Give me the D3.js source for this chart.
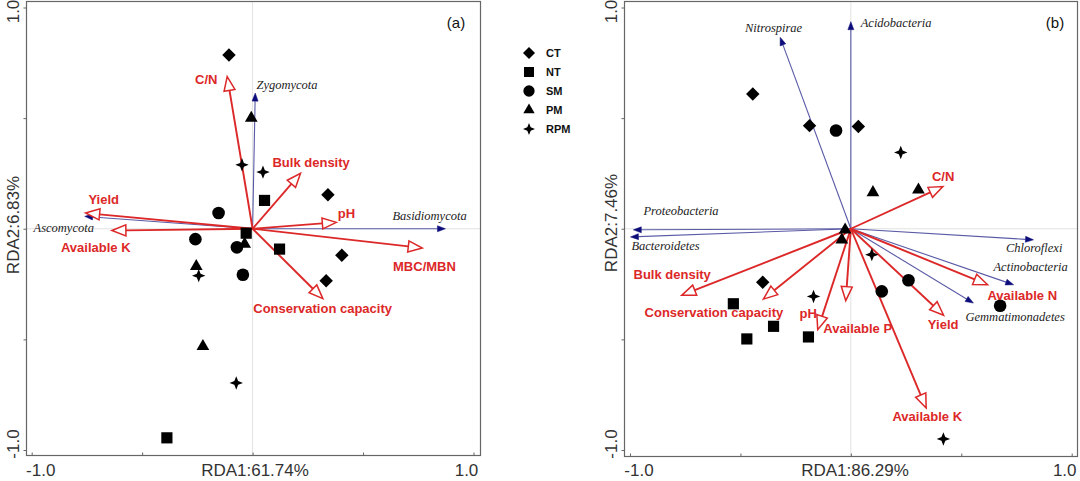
<!DOCTYPE html>
<html><head><meta charset="utf-8">
<script src="https://cdn.jsdelivr.net/npm/d3@7"></script>
<style>body{margin:0;background:#fff}svg{display:block}</style>
</head><body>
<svg id="chart" width="1080" height="481"></svg>
<script>
// ---------- DATA ----------
const groups = ["CT", "NT", "SM", "PM", "RPM"];
const axisTitlesA = ["RDA1:61.74%", "RDA2:6.83%"];
const axisTitlesB = ["RDA1:86.29%", "RDA2:7.46%"];
const tickLabels = ["-1.0", "1.0"];
const tickValues = [-1, -0.5, 0, 0.5, 1];

// Panel (a) sample scores
const aCT  = [[-0.107, 0.785], [0.341, 0.154], [0.404, -0.120], [0.333, -0.235]];
const aNT  = [[0.054, 0.128], [-0.029, -0.020], [0.122, -0.092], [-0.388, -0.945]];
const aSM  = [[-0.154, 0.071], [-0.259, -0.047], [-0.071, -0.084], [-0.044, -0.208]];
const aPM  = [[-0.006, 0.500], [-0.255, -0.170], [-0.036, -0.069], [-0.225, -0.531]];
const aRPM = [[-0.048, 0.289], [0.047, 0.256], [-0.244, -0.212], [-0.074, -0.697]];
// Panel (a) environmental vectors (red)
const aEnvNames = ["C/N", "Bulk density", "pH", "MBC/MBN", "Conservation capacity", "Yield", "Available K"];
const aEnvX = [-0.115, 0.217, 0.379, 0.768, 0.318, -0.756, -0.637];
const aEnvY = [0.688, 0.251, 0.029, -0.087, -0.316, 0.071, -0.008];
// Panel (a) taxa vectors (blue)
const aSpNames = ["Zygomycota", "Basidiomycota", "Ascomycota"];
const aSpX = [0.012, 0.873, -0.760];
const aSpY = [0.613, 0.000, 0.056];

// Panel (b) sample scores
const bCT  = [[-0.444, 0.609], [-0.187, 0.466], [0.034, 0.462], [-0.399, -0.242]];
const bNT  = [[-0.532, -0.339], [-0.350, -0.441], [-0.471, -0.498], [-0.192, -0.489]];
const bSM  = [[-0.067, 0.444], [0.140, -0.283], [0.261, -0.233], [0.676, -0.348]];
const bPM  = [[0.100, 0.164], [0.306, 0.176], [-0.026, -0.005], [-0.041, -0.050]];
const bRPM = [[0.226, 0.345], [0.095, -0.117], [-0.169, -0.306], [0.419, -0.950]];
// Panel (b) environmental vectors (red)
const bEnvNames = ["C/N", "Bulk density", "Conservation capacity", "pH", "Available P", "Available K", "Yield", "Available N"];
const bEnvX = [0.417, -0.766, -0.396, -0.150, -0.023, 0.341, 0.420, 0.619];
const bEnvY = [0.191, -0.301, -0.318, -0.456, -0.325, -0.810, -0.391, -0.253];
// Panel (b) taxa vectors (blue)
const bSpNames = ["Nitrospirae", "Acidobacteria", "Proteobacteria", "Bacteroidetes", "Chloroflexi", "Actinobacteria", "Gemmatimonadetes"];
const bSpX = [-0.320, 0.000, -0.985, -0.998, 0.827, 0.737, 0.555];
const bSpY = [0.865, 0.936, -0.005, -0.037, -0.050, -0.253, -0.336];

// ---------- LAYOUT (label placement in data units) ----------
const aEnvLab = [[-0.210, 0.677], [0.265, 0.302], [0.425, 0.072], [0.778, -0.172], [0.317, -0.361], [-0.674, 0.131], [-0.710, -0.086]];
const aSpLab  = [[0.156, 0.650], [0.801, 0.059], [-0.855, 0.005]];
const bEnvLab = [[0.418, 0.239], [-0.809, -0.208], [-0.620, -0.379], [-0.193, -0.384], [0.031, -0.451], [0.346, -0.849], [0.418, -0.433], [0.776, -0.302]];
const bSpLab  = [[-0.350, 0.907], [0.205, 0.930], [-0.769, 0.081], [-0.839, -0.077], [0.830, -0.086], [0.814, -0.172], [0.744, -0.397]];

// ---------- SYMBOLS ----------
const symDiamond = { draw(ctx, size) { const h = Math.sqrt(size) / 2; ctx.moveTo(0, -h); ctx.lineTo(h, 0); ctx.lineTo(0, h); ctx.lineTo(-h, 0); ctx.closePath(); } };
const symStar4 = { draw(ctx, size) { const R = Math.sqrt(size) / 2, r = R * 0.4;
  for (let i = 0; i < 8; i++) { const a = i * Math.PI / 4 - Math.PI / 2; const rr = i % 2 ? r : R;
    const x = Math.cos(a) * rr, y = Math.sin(a) * rr; i ? ctx.lineTo(x, y) : ctx.moveTo(x, y); }
  ctx.closePath(); } };
const symTypes = [symDiamond, d3.symbolSquare, d3.symbolCircle, d3.symbolTriangle, symStar4];
const symSizes = [180, 125, 125, 70, 180];

const RED = "#dc2828", BLUE_LINE = "#5a5aa6", BLUE_HEAD = "#0c0c7a", TXT = "#333";
const svg = d3.select("#chart");

function arrow(g, x0, y0, x1, y1, opt) {
  const dx = x1 - x0, dy = y1 - y0, L = Math.hypot(dx, dy), ux = dx / L, uy = dy / L;
  const bx = x1 - ux * opt.len, by = y1 - uy * opt.len;
  g.append("line").attr("x1", x0).attr("y1", y0).attr("x2", bx).attr("y2", by)
    .attr("stroke", opt.line).attr("stroke-width", opt.sw);
  g.append("path").attr("d", `M${x1},${y1}L${bx - uy * opt.w},${by + ux * opt.w}L${bx + uy * opt.w},${by - ux * opt.w}Z`)
    .attr("fill", opt.fill).attr("stroke", opt.stroke).attr("stroke-width", opt.hsw).attr("stroke-linejoin", "miter");
}

function panel(cfg) {
  const xs = d3.scaleLinear().domain([-1, 1]).range(cfg.xr);
  const ys = d3.scaleLinear().domain([-1, 1]).range(cfg.yr);
  const g = svg.append("g");
  const f = cfg.frame;
  // crosshair
  g.append("line").attr("x1", xs(0)).attr("x2", xs(0)).attr("y1", f[1]).attr("y2", f[3]).attr("stroke", "#e2e2e2").attr("stroke-width", 1);
  g.append("line").attr("x1", f[0]).attr("x2", f[2]).attr("y1", ys(0)).attr("y2", ys(0)).attr("stroke", "#e2e2e2").attr("stroke-width", 1);
  // frame
  g.append("rect").attr("x", f[0]).attr("y", f[1]).attr("width", f[2] - f[0]).attr("height", f[3] - f[1])
    .attr("fill", "none").attr("stroke", "#666").attr("stroke-width", 1.2);
  // axes ticks
  const ax = g.append("g").attr("transform", `translate(0,${f[3]})`)
    .call(d3.axisBottom(xs).tickValues(tickValues).tickSize(-3).tickFormat(""));
  ax.select(".domain").remove();
  ax.selectAll("line").attr("stroke", "#666");
  const ay = g.append("g").attr("transform", `translate(${f[0]},0)`)
    .call(d3.axisLeft(ys).tickValues(tickValues).tickSize(3).tickFormat(""));
  ay.select(".domain").remove();
  ay.selectAll("line").attr("stroke", "#666");
  // tick labels
  const tl = g.append("g").attr("font-family", "Liberation Sans, Arial, sans-serif").attr("font-size", 17).attr("fill", TXT);
  const by = 476;
  tl.append("text").attr("x", xs(-1) + 9).attr("y", by).attr("text-anchor", "middle").text(tickLabels[0]);
  tl.append("text").attr("x", xs(1) - 7).attr("y", by).attr("text-anchor", "middle").text(tickLabels[1]);
  tl.append("text").attr("transform", `translate(${f[0] - 8},${ys(1) + 4}) rotate(-90)`).attr("text-anchor", "middle").text(tickLabels[1]);
  tl.append("text").attr("transform", `translate(${f[0] - 8},${ys(-1) - 6}) rotate(-90)`).attr("text-anchor", "middle").text(tickLabels[0]);
  tl.append("text").attr("x", cfg.titleX).attr("y", by).attr("text-anchor", "middle").text(cfg.titles[0]);
  tl.append("text").attr("transform", `translate(${f[0] - 8},${cfg.titleY}) rotate(-90)`).attr("text-anchor", "middle").text(cfg.titles[1]);
  // panel tag
  g.append("text").attr("x", cfg.tag[0]).attr("y", cfg.tag[1]).attr("font-family", "Liberation Sans, Arial, sans-serif")
    .attr("font-size", 15).attr("fill", "#111").attr("text-anchor", "middle").text(cfg.tag[2]);
  // blue vectors
  const ox = xs(0), oy = ys(0);
  cfg.spX.forEach((v, i) => arrow(g, ox, oy, xs(v), ys(cfg.spY[i]),
    { line: BLUE_LINE, sw: 1.1, len: 8, w: 3, fill: BLUE_HEAD, stroke: BLUE_HEAD, hsw: 0.5 }));
  // red vectors
  cfg.envX.forEach((v, i) => arrow(g, ox, oy, xs(v), ys(cfg.envY[i]),
    { line: RED, sw: 1.9, len: 14, w: 5.5, fill: "#fff", stroke: RED, hsw: 1.5 }));
  // points
  cfg.pts.forEach((arr, k) => {
    g.selectAll(null).data(arr).enter().append("path")
      .attr("transform", d => `translate(${xs(d[0])},${ys(d[1])})`)
      .attr("d", d3.symbol().type(symTypes[k]).size(symSizes[k]))
      .attr("fill", "#000");
  });
  // labels
  const lg = g.append("g");
  cfg.envNames.forEach((n, i) => lg.append("text").attr("x", xs(cfg.envLab[i][0])).attr("y", ys(cfg.envLab[i][1]))
    .attr("dy", "0.36em").attr("text-anchor", "middle").attr("font-family", "Liberation Sans, Arial, sans-serif")
    .attr("font-weight", "bold").attr("font-size", 13).attr("fill", RED).text(n));
  cfg.spNames.forEach((n, i) => lg.append("text").attr("x", xs(cfg.spLab[i][0])).attr("y", ys(cfg.spLab[i][1]))
    .attr("dy", "0.34em").attr("text-anchor", "middle").attr("font-family", "Liberation Serif, Times New Roman, serif")
    .attr("font-style", "italic").attr("font-size", 12.5).attr("fill", "#222").text(n));
}

panel({ xr: [31.7, 473.5], yr: [450, 7.5], frame: [26.5, 1.5, 480.5, 455.5], titles: axisTitlesA, titleX: 255, titleY: 225,
  tag: [456, 28, "(a)"], pts: [aCT, aNT, aSM, aPM, aRPM], envNames: aEnvNames, envX: aEnvX, envY: aEnvY, envLab: aEnvLab,
  spNames: aSpNames, spX: aSpX, spY: aSpY, spLab: aSpLab });
panel({ xr: [630, 1071.7], yr: [450, 7.5], frame: [624.5, 1.5, 1077.5, 456.5], titles: axisTitlesB, titleX: 855, titleY: 223,
  tag: [1055, 28, "(b)"], pts: [bCT, bNT, bSM, bPM, bRPM], envNames: bEnvNames, envX: bEnvX, envY: bEnvY, envLab: bEnvLab,
  spNames: bSpNames, spX: bSpX, spY: bSpY, spLab: bSpLab });

// legend
const ly = d3.scalePoint().domain(groups).range([53, 129]);
const leg = svg.append("g");
groups.forEach((gname, k) => {
  leg.append("path").attr("transform", `translate(529,${ly(gname)})`)
    .attr("d", d3.symbol().type(symTypes[k]).size(symSizes[k] * 0.8)).attr("fill", "#000");
  leg.append("text").attr("x", 546).attr("y", ly(gname)).attr("dy", "0.36em")
    .attr("font-family", "Liberation Sans, Arial, sans-serif").attr("font-weight", "bold").attr("font-size", 11)
    .attr("fill", "#111").text(gname);
});
</script>
</body></html>
